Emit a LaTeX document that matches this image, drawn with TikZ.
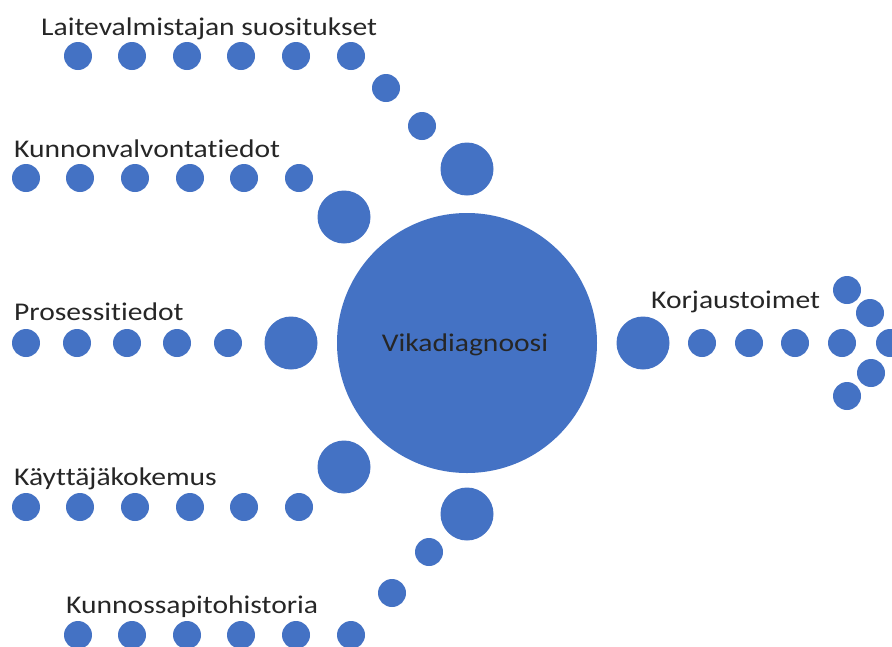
\documentclass[tikz,border=0pt]{standalone}
\usepackage{fontspec}
\setmainfont[FakeStretch=1.16,Ligatures=CommonOff]{Carlito}
\definecolor{dotblue}{HTML}{4472C4}
\begin{document}
\begin{tikzpicture}[x=1pt,y=-1pt,
  dot/.style={circle,fill=dotblue,inner sep=0pt,minimum size=28pt},
  hub/.style={circle,fill=dotblue,inner sep=0pt,minimum size=53pt},
  core/.style={circle,fill=dotblue,inner sep=0pt,minimum size=260pt,
    font=\fontsize{25.5}{30}\selectfont,text=black!85},
  lbl/.style={anchor=base west,inner sep=0pt,font=\fontsize{25.5}{30}\selectfont,text=black!85}]
\useasboundingbox (0,0) rectangle (892,646);

% central node
\node[core] (vd) at (467,343) {};
\node[anchor=base,inner sep=0pt,font=\fontsize{25.5}{30}\selectfont,text=black!85] (vdt) at (465,351) {Vikadiagnoosi};

% Laitevalmistajan suositukset
\node[lbl] (t1) at (41,35) {Laitevalmistajan suositukset};
\foreach \x [count=\i] in {78,132,187,241,296,351}
  \node[dot] (a\i) at (\x,56) {};
\node[dot] (a7) at (386,88) {};
\node[dot] (a8) at (422,126) {};
\node[hub] (a9) at (467,169) {};

% Kunnonvalvontatiedot
\node[lbl] (t2) at (14,157) {Kunnonvalvontatiedot};
\foreach \x [count=\i] in {26,80,135,190,244,299}
  \node[dot] (b\i) at (\x,178) {};
\node[hub] (b7) at (344,217) {};

% Prosessitiedot
\node[lbl] (t3) at (14,320) {Prosessitiedot};
\foreach \x [count=\i] in {26,77,127,177,228}
  \node[dot] (c\i) at (\x,343) {};
\node[hub] (c6) at (291,343) {};

% Käyttäjäkokemus
\node[lbl] (t4) at (14,485) {Käyttäjäkokemus};
\foreach \x [count=\i] in {26,80,135,190,244,299}
  \node[dot] (d\i) at (\x,507) {};
\node[hub] (d7) at (344,467) {};

% Kunnossapitohistoria
\node[lbl] (t5) at (66,613) {Kunnossapitohistoria};
\foreach \x [count=\i] in {78,132,187,241,296,351}
  \node[dot] (e\i) at (\x,635) {};
\node[dot] (e7) at (392,593) {};
\node[dot] (e8) at (429,552) {};
\node[hub] (e9) at (467,514) {};

% Korjaustoimet (outgoing arrow of dots)
\node[lbl] (t6) at (651,308) {Korjaustoimet};
\node[hub] (f0) at (643,343) {};
\foreach \x [count=\i] in {702,749,795,842,890}
  \node[dot] (f\i) at (\x,343) {};
\node[dot] (g1) at (847,290) {};
\node[dot] (g2) at (870,313) {};
\node[dot] (g3) at (871,373) {};
\node[dot] (g4) at (847,396) {};
\end{tikzpicture}
\end{document}
